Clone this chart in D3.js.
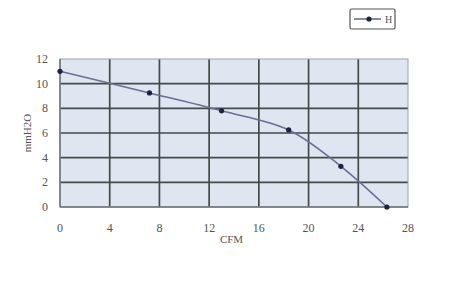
<!DOCTYPE html>
<html>
<head>
<meta charset="utf-8">
<script src="https://cdn.jsdelivr.net/npm/d3@7"></script>
<style>
  body { margin: 0; background: #fff; }
  text { font-family: "Liberation Serif", "DejaVu Serif", serif; fill: #555; }
</style>
</head>
<body>
<svg id="chart" width="463" height="283"></svg>
<script>
// values
const cfm = [0, 7.2, 13, 18.4, 22.6, 26.3];
const pressure = [11, 9.25, 7.8, 6.25, 3.3, 0];
const xTicks = [0, 4, 8, 12, 16, 20, 24, 28];
const yTicks = [0, 2, 4, 6, 8, 10, 12];
const seriesName = "H";

const svg = d3.select('#chart');
const margin = { left: 60, top: 59, right: 55, bottom: 76 };
const width = 463 - margin.left - margin.right;
const height = 283 - margin.top - margin.bottom;

const x = d3.scaleLinear().domain([0, 28]).range([0, width]);
const y = d3.scaleLinear().domain([0, 12]).range([height, 0]);

const g = svg.append('g').attr('transform', `translate(${margin.left},${margin.top})`);

g.append('rect')
  .attr('width', width).attr('height', height)
  .attr('fill', '#dde6f1');

// grid
g.selectAll('.vgrid').data(xTicks.filter(d => d > 0 && d < 28))
  .join('line')
  .attr('x1', d => x(d)).attr('x2', d => x(d))
  .attr('y1', 0).attr('y2', height)
  .attr('stroke', '#434a4a').attr('stroke-width', 1.7);
g.selectAll('.hgrid').data(yTicks.filter(d => d > 0 && d < 12))
  .join('line')
  .attr('x1', 0).attr('x2', width)
  .attr('y1', d => y(d)).attr('y2', d => y(d))
  .attr('stroke', '#434a4a').attr('stroke-width', 1.7);

// frame
g.append('rect')
  .attr('width', width).attr('height', height)
  .attr('fill', 'none').attr('stroke', '#9aa3a8').attr('stroke-width', 1);
g.append('line').attr('x1', 0).attr('x2', 0).attr('y1', 0).attr('y2', height)
  .attr('stroke', '#6a7070').attr('stroke-width', 1.5);
g.append('line').attr('x1', 0).attr('x2', width).attr('y1', height).attr('y2', height)
  .attr('stroke', '#6a7070').attr('stroke-width', 1.5);

// tick labels
g.selectAll('.xt').data(xTicks).join('text')
  .attr('x', d => x(d)).attr('y', height + 25)
  .attr('text-anchor', 'middle').attr('font-size', 12)
  .text(d => d);
g.selectAll('.yt').data(yTicks).join('text')
  .attr('x', -12).attr('y', d => y(d) + 4)
  .attr('text-anchor', 'end').attr('font-size', 12)
  .text(d => d);

// axis titles
g.append('text')
  .attr('x', x(13.8)).attr('y', height + 36)
  .attr('text-anchor', 'middle').attr('font-size', 11)
  .text('CFM');
g.append('text')
  .attr('transform', `translate(-29,${y(6)}) rotate(-90)`)
  .attr('text-anchor', 'middle').attr('font-size', 11)
  .text('mmH2O');

// series
const pts = cfm.map((c, i) => [c, pressure[i]]);
const line = d3.line().x(d => x(d[0])).y(d => y(d[1])).curve(d3.curveCatmullRom.alpha(0.5));
g.append('path').datum(pts)
  .attr('d', line)
  .attr('fill', 'none').attr('stroke', '#6a6f94').attr('stroke-width', 1.6);
g.selectAll('.pt').data(pts).join('circle')
  .attr('cx', d => x(d[0])).attr('cy', d => y(d[1]))
  .attr('r', 2.6).attr('fill', '#1c2340');

// legend
const lg = svg.append('g').attr('transform', 'translate(350,9)');
lg.append('rect').attr('width', 45).attr('height', 20).attr('rx', 1.5)
  .attr('fill', '#fff').attr('stroke', '#555').attr('stroke-width', 1.2);
lg.append('line').attr('x1', 4).attr('x2', 31).attr('y1', 10).attr('y2', 10)
  .attr('stroke', '#6a6f94').attr('stroke-width', 1.6);
lg.append('circle').attr('cx', 19).attr('cy', 10).attr('r', 2.6).attr('fill', '#1c2340');
lg.append('text').attr('x', 35).attr('y', 14).attr('font-size', 10).text(seriesName);
</script>
</body>
</html>
